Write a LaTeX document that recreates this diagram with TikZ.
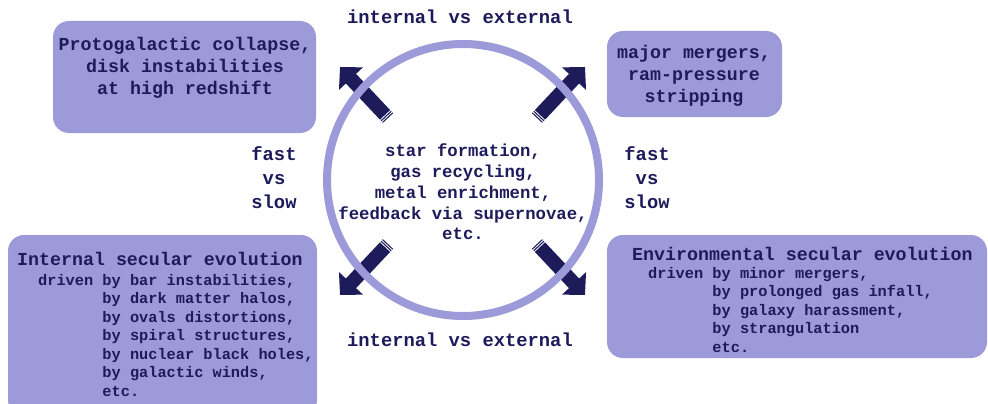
\documentclass[tikz,border=0pt]{standalone}
\usepackage{fontspec}
\setmonofont{Liberation Mono}
\usetikzlibrary{arrows.meta,calc}
\definecolor{navy}{HTML}{1E1B5B}
\definecolor{lilac}{HTML}{9C9AD9}

\begin{document}
\begin{tikzpicture}[x=1pt,y=-1pt,
    box/.style={fill=lilac, rounded corners=16pt},
    head/.style={text=navy, inner sep=0pt, align=center,
      font=\ttfamily\bfseries\fontsize{18.3}{22}\selectfont},
    body/.style={text=navy, inner sep=0pt, align=left, anchor=north west,
      font=\ttfamily\bfseries\fontsize{15.3}{18.5}\selectfont},
    axis/.style={text=navy, inner sep=0pt, align=center,
      font=\ttfamily\bfseries\fontsize{18.8}{24}\selectfont},
    bigarrow/.style={navy, line width=14pt, -{Triangle[length=16pt,width=32pt]}},
    tailcuts/.style={white, line width=15pt, dash pattern=on 0.8pt off 1.4pt}]
    \useasboundingbox (0,0) rectangle (988,404);

    % four corner boxes
    \fill[box] (53,21) rectangle (316,133);
    \node[head] (collapse) at (185,68)
      {Protogalactic collapse,\\disk instabilities\\at high redshift};

    \fill[box] (607,31) rectangle (782,117);
    \node[head] (mergers) at (694,76)
      {major mergers,\\ram-pressure\\stripping};

    \fill[box] (8,235) rectangle (317,416);
    \node[head, anchor=base west] (internal) at (17,265) {Internal secular evolution};
    \node[body] (drivers) at (38,274)
      {driven by bar instabilities,\\
       \hphantom{driven} by dark matter halos,\\
       \hphantom{driven} by ovals distortions,\\
       \hphantom{driven} by spiral structures,\\
       \hphantom{driven} by nuclear black holes,\\
       \hphantom{driven} by galactic winds,\\
       \hphantom{driven} etc.};

    \fill[box] (607,235) rectangle (987,358);
    \node[head, anchor=base west] (environ) at (632,260) {Environmental secular evolution};
    \node[body] (outside) at (648,267)
      {driven by minor mergers,\\
       \hphantom{driven} by prolonged gas infall,\\
       \hphantom{driven} by galaxy harassment,\\
       \hphantom{driven} by strangulation\\
       \hphantom{driven} etc.};

    % arrows out of the circle
    \coordinate (nw-tail) at (388,118); \coordinate (nw-tip) at (340,67);
    \coordinate (ne-tail) at (537,118); \coordinate (ne-tip) at (585,67);
    \coordinate (sw-tail) at (388,244); \coordinate (sw-tip) at (340,295);
    \coordinate (se-tail) at (537,244); \coordinate (se-tip) at (585,295);
    \foreach \c in {nw,ne,sw,se} {
      \draw[bigarrow] (\c-tail) -- (\c-tip);
      \draw[tailcuts] ($(\c-tail)!1.2pt!(\c-tip)$) -- ($(\c-tail)!4.4pt!(\c-tip)$);
    }

    % the circle and what goes on inside it
    \draw[lilac, line width=8pt] (463,180) circle (136);
    \node[head, font=\ttfamily\bfseries\fontsize{17.3}{20.8}\selectfont] (cycle) at (463,192)
      {star formation,\\gas recycling,\\metal enrichment,\\feedback via supernovae,\\etc.};

    % axis labels
    \node[axis] (top) at (460,17) {internal vs external};
    \node[axis] (bottom) at (460,340) {internal vs external};
    \node[axis] (left) at (274,178) {fast\\vs\\slow};
    \node[axis] (right) at (647,178) {fast\\vs\\slow};
\end{tikzpicture}
\end{document}
